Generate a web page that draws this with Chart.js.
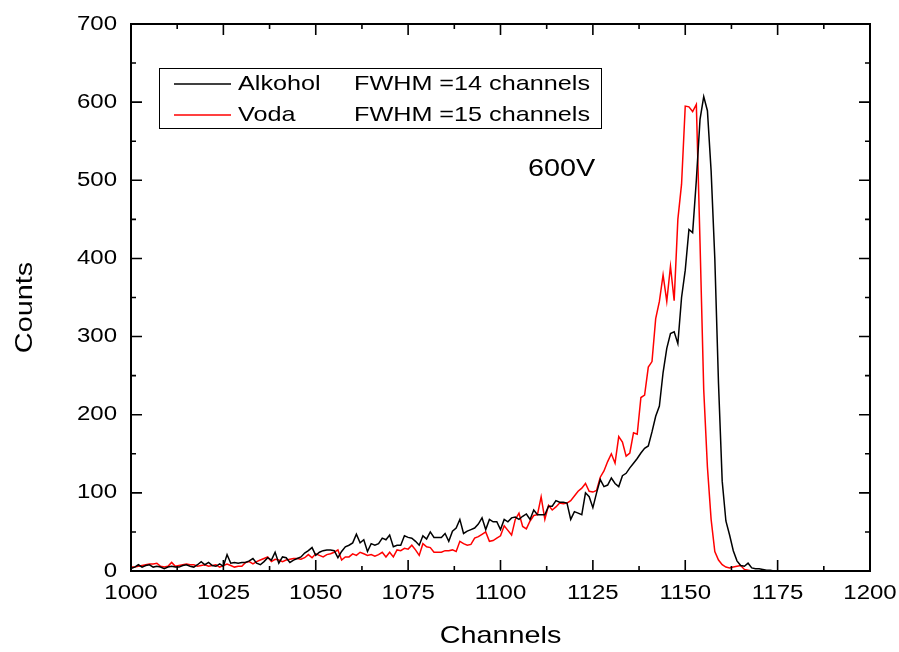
<!DOCTYPE html>
<html>
<head>
    <script src="https://cdn.jsdelivr.net/npm/chart.js@4.4.1/dist/chart.umd.min.js"></script>
    <style>
        body {
            margin: 0;
            padding: 0;
            background: #fff;
        }
        #wrap {
            width: 899px;
            height: 652px;
        }
    </style>
</head>
<body>
<div id="wrap">
    <canvas id="myChart" width="899" height="652"></canvas>
</div>

<script>
    // channels 1000..1200, one count per channel
    const firstChannel = 1000;
    const lastChannel = 1200;

    const alkohol = [
        3, 5, 8, 5, 7, 8, 5, 6, 5, 3,
        5, 6, 5, 5, 7, 8, 6, 5, 8, 12,
        8, 11, 7, 6, 9, 6, 21, 10, 11, 10,
        11, 11, 13, 16, 10, 8, 12, 17, 14, 24,
        10, 18, 17, 11, 14, 16, 18, 23, 26, 30,
        20, 24, 26, 27, 27, 26, 17, 25, 31, 33,
        36, 47, 36, 40, 25, 35, 33, 35, 42, 40,
        46, 31, 33, 33, 45, 43, 42, 38, 33, 45,
        41, 50, 43, 43, 43, 48, 38, 51, 55, 66,
        48, 51, 53, 55, 60, 68, 53, 66, 63, 63,
        53, 66, 63, 68, 69, 66, 70, 73, 66, 78,
        72, 72, 72, 83, 83, 90, 88, 88, 87, 66,
        76, 74, 72, 100, 95, 81, 100, 117, 108, 110,
        119, 112, 108, 122, 125, 132, 138, 144, 151, 157,
        160, 178, 198, 211, 254, 285, 304, 306, 291, 350,
        385, 437, 433, 500, 578, 607, 589, 512, 400, 240,
        115, 64, 46, 26, 13, 7, 6, 10, 4, 3,
        3, 2, 1, 1, 0, 0, 0, 0, 0, 0,
        0, 0, 0, 0, 0, 0, 0, 0, 0, 0,
        0, 0, 0, 0, 0, 0, 0, 0, 0, 0,
        0
    ];

    const voda = [
        5, 5, 6, 7, 8, 9, 9, 10, 6, 5,
        6, 11, 6, 7, 8, 9, 8, 8, 6, 7,
        8, 6, 7, 8, 5, 7, 9, 7, 5, 6,
        6, 11, 12, 9, 12, 14, 16, 18, 12, 15,
        14, 12, 14, 15, 16, 16, 15, 17, 21, 17,
        22, 20, 18, 21, 22, 24, 27, 14, 18, 18,
        22, 20, 24, 22, 20, 21, 19, 21, 24, 18,
        24, 18, 27, 26, 29, 28, 33, 27, 20, 35,
        31, 30, 24, 24, 24, 26, 26, 27, 25, 38,
        35, 33, 34, 42, 44, 47, 50, 38, 39, 42,
        45, 58, 52, 46, 66, 74, 57, 54, 64, 71,
        72, 95, 66, 84, 78, 82, 87, 86, 87, 90,
        96, 102, 106, 112, 102, 101, 103, 120, 128, 140,
        150, 138, 172, 165, 147, 151, 177, 175, 222, 225,
        261, 268, 323, 345, 379, 345, 390, 346, 450, 495,
        595, 594, 588, 597, 420, 232, 133, 66, 25, 14,
        8, 5, 4, 5, 6, 7, 2, 1, 0, 0,
        0, 0, 0, 0, 0, 0, 0, 0, 0, 0,
        0, 0, 0, 0, 0, 0, 0, 0, 0, 0,
        0, 0, 0, 0, 0, 0, 0, 0, 0, 0,
        0
    ];

    const xTicks = [1000, 1025, 1050, 1075, 1100, 1125, 1150, 1175, 1200];
    const yTicks = [0, 100, 200, 300, 400, 500, 600, 700];

    const legendRows = [
        {name: 'Alkohol', note: 'FWHM =14 channels', color: '#000000'},
        {name: 'Voda', note: 'FWHM =15 channels', color: '#ff0000'}
    ];
    const voltageLabel = '600V';
    const xTitle = 'Channels';
    const yTitle = 'Counts';

    const FONT = 'Arial, "Liberation Sans", sans-serif';
    const WIDE = 1.2;  // the original lettering is a bit wider than Arial

    function toPoints(values) {
        return values.map((v, i) => ({x: firstChannel + i, y: v}));
    }

    // text drawn with a horizontal stretch along its own direction
    function wideText(ctx, text, x, y, size, align, angle) {
        ctx.save();
        ctx.translate(x, y);
        if (angle) ctx.rotate(angle);
        ctx.scale(WIDE, 1);
        ctx.font = size + 'px ' + FONT;
        ctx.textAlign = align;
        ctx.textBaseline = 'middle';
        ctx.fillStyle = '#000';
        ctx.fillText(text, 0, 0);
        ctx.restore();
    }

    // frame with inward ticks on all four sides, plus tick labels and axis titles
    const framePlugin = {
        id: 'frame',
        afterDatasetsDraw(chart) {
            const {ctx, chartArea: a, scales: {x, y}} = chart;
            ctx.save();
            ctx.strokeStyle = '#000';
            ctx.lineWidth = 2;
            ctx.strokeRect(a.left, a.top, a.right - a.left, a.bottom - a.top);

            ctx.lineWidth = 1.6;
            ctx.beginPath();
            for (let i = 0; i < xTicks.length; i++) {
                const px = x.getPixelForValue(xTicks[i]);
                ctx.moveTo(px, a.bottom); ctx.lineTo(px, a.bottom - 11);
                ctx.moveTo(px, a.top); ctx.lineTo(px, a.top + 11);
                if (i < xTicks.length - 1) {
                    const mx = x.getPixelForValue((xTicks[i] + xTicks[i + 1]) / 2);
                    ctx.moveTo(mx, a.bottom); ctx.lineTo(mx, a.bottom - 5);
                    ctx.moveTo(mx, a.top); ctx.lineTo(mx, a.top + 5);
                }
            }
            for (let i = 0; i < yTicks.length; i++) {
                const py = y.getPixelForValue(yTicks[i]);
                ctx.moveTo(a.left, py); ctx.lineTo(a.left + 11, py);
                ctx.moveTo(a.right, py); ctx.lineTo(a.right - 11, py);
                if (i < yTicks.length - 1) {
                    const my = y.getPixelForValue((yTicks[i] + yTicks[i + 1]) / 2);
                    ctx.moveTo(a.left, my); ctx.lineTo(a.left + 5, my);
                    ctx.moveTo(a.right, my); ctx.lineTo(a.right - 5, my);
                }
            }
            ctx.stroke();
            ctx.restore();

            xTicks.forEach(v => wideText(ctx, String(v), x.getPixelForValue(v), a.bottom + 22, 20, 'center'));
            yTicks.forEach(v => wideText(ctx, String(v), (a.left - 14) / WIDE * WIDE, y.getPixelForValue(v), 20, 'right'));

            wideText(ctx, xTitle, (a.left + a.right) / 2, 636, 24, 'center');
            wideText(ctx, yTitle, 25, (a.top + a.bottom) / 2 + 10, 24, 'center', -Math.PI / 2);
        }
    };

    // boxed legend and the 600V note
    const notesPlugin = {
        id: 'notes',
        afterDraw(chart) {
            const ctx = chart.ctx;
            ctx.save();
            ctx.strokeStyle = '#000';
            ctx.lineWidth = 1;
            ctx.strokeRect(159.5, 68.5, 442, 60);

            legendRows.forEach((row, i) => {
                const ly = 84 + i * 31;
                ctx.strokeStyle = row.color;
                ctx.lineWidth = 1.5;
                ctx.beginPath();
                ctx.moveTo(174, ly);
                ctx.lineTo(231, ly);
                ctx.stroke();
                wideText(ctx, row.name, 238, ly, 21, 'left');
                wideText(ctx, row.note, 354, ly, 21, 'left');
            });
            ctx.restore();

            wideText(ctx, voltageLabel, 528, 169, 24, 'left');
        }
    };

    const ctx = document.getElementById('myChart').getContext('2d');
    const myChart = new Chart(ctx, {
        type: 'line',
        data: {
            datasets: [
                {
                    label: legendRows[0].name,
                    data: toPoints(alkohol),
                    borderColor: '#000000',
                    borderWidth: 1.5,
                    pointRadius: 0,
                    tension: 0,
                    fill: false
                },
                {
                    label: legendRows[1].name,
                    data: toPoints(voda),
                    borderColor: '#ff0000',
                    borderWidth: 1.5,
                    pointRadius: 0,
                    tension: 0,
                    fill: false
                }
            ]
        },
        options: {
            responsive: false,
            animation: false,
            layout: {padding: {left: 0, right: 29, top: 24, bottom: 0}},
            plugins: {
                legend: {display: false},
                tooltip: {enabled: false}
            },
            scales: {
                x: {
                    type: 'linear',
                    min: firstChannel,
                    max: lastChannel,
                    afterFit(scale) {
                        scale.height = 81;
                        scale.paddingLeft = 0;
                        scale.paddingRight = 0;
                    },
                    afterBuildTicks(scale) { scale.ticks = xTicks.map(v => ({value: v})); },
                    grid: {display: false, drawTicks: false},
                    border: {display: false},
                    ticks: {display: false}
                },
                y: {
                    min: 0,
                    max: 700,
                    afterFit(scale) {
                        scale.width = 131;
                        scale.paddingTop = 0;
                        scale.paddingBottom = 0;
                    },
                    afterBuildTicks(scale) { scale.ticks = yTicks.map(v => ({value: v})); },
                    grid: {display: false, drawTicks: false},
                    border: {display: false},
                    ticks: {display: false}
                }
            }
        },
        plugins: [framePlugin, notesPlugin]
    });
</script>
</body>
</html>
